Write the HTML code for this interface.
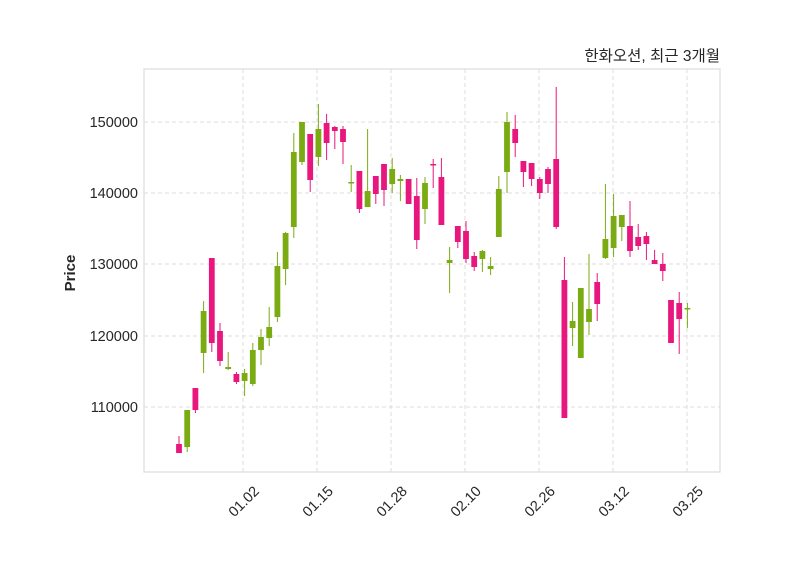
<!DOCTYPE html>
<html><head><meta charset="utf-8">
<style>
body{margin:0;background:#fff;}
svg{display:block;font-family:"Liberation Sans","DejaVu Sans",sans-serif;}
</style></head>
<body>
<svg id="s" width="800" height="575" xmlns="http://www.w3.org/2000/svg">
<rect x="0" y="0" width="800" height="575" fill="#fff"/>
<g id="grid" stroke="#d4d4d4" stroke-width="0.8" stroke-dasharray="4,3"></g>
<g id="c"></g>
<rect x="144" y="69" width="576" height="403" fill="none" stroke="#dcdcdc" stroke-width="1.2"/>
<g id="lab" font-size="14.5" fill="#262626"></g>
<text x="720" y="61" text-anchor="end" font-size="15.5" fill="#262626" font-family="'Liberation Sans','Noto Sans CJK KR',sans-serif">한화오션, 최근 3개월</text>
<text transform="translate(75,273) rotate(-90)" text-anchor="middle" font-size="15" font-weight="bold" fill="#262626">Price</text>
</svg>
<script>
var NS="http://www.w3.org/2000/svg";
function el(p,t,a,txt){var e=document.createElementNS(NS,t);for(var k in a)e.setAttribute(k,a[k]);if(txt)e.textContent=txt;p.appendChild(e);return e;}
var g=document.getElementById('grid'),lab=document.getElementById('lab'),c=document.getElementById('c');
var yt=[[407,"110000"],[336,"120000"],[264,"130000"],[193,"140000"],[122,"150000"]];
yt.forEach(function(t){el(g,'line',{x1:144,x2:720,y1:t[0],y2:t[0]});el(lab,'text',{x:138,y:t[0]+5,'text-anchor':'end'},t[1]);});
var xt=[[243,"01.02"],[317,"01.15"],[391,"01.28"],[465,"02.10"],[539,"02.26"],[613,"03.12"],[687,"03.25"]];
xt.forEach(function(t){el(g,'line',{x1:t[0],x2:t[0],y1:69,y2:472});el(lab,'text',{transform:'translate('+(t[0]+17)+',492) rotate(-45)','text-anchor':'end'},t[1]);});
var d=[[444,453,436,453,0],[410,447,410,452,1],[388,410,388,413,0],[311,353,301,373,1],[258,343,258,352,0],[331,361,323,366,0],[367,369,352,370,1],[374,382,372,384,0],[373,381,369,396,1],[350,384,343,386,1],[337,350,329,365,1],[327,338,307,346,1],[266,317,252,322,1],[233,269,232,285,1],[152,227,133,238,1],
[122,162,122,165,1],[134,180,134,192,0],[129,157,104,166,1],[123,143,114,160,0],[127,131,126,149,0],[129,142,126,164,0],[182,183,165,192,1],[171,209,171,213,0],[191,207,129,207,1],[176,194,176,204,0],[164,190,164,206,0],[169,184,158,193,1],[179,181,175,201,1],[179,204,179,204,0],[196,240,178,249,0],[183,209,177,224,1],[164,165,159,188,0],
[177,225,158,225,0],[260,263,247,293,1],[226,242,226,248,0],[231,259,221,263,0],[256,267,252,271,0],[251,259,250,272,1],[266,269,257,275,1],[189,237,176,237,1],[122,172,112,193,1],[129,143,115,157,0],[161,172,161,187,0],[163,179,163,186,0],[179,193,177,199,0],[169,184,167,193,0],[159,227,87,229,0],[280,418,257,418,0],[321,328,302,346,1],[288,358,288,358,1],
[309,322,254,335,1],[282,304,273,321,0],[239,258,184,259,1],[216,248,194,257,1],[215,227,215,241,1],[226,251,201,257,0],[237,246,224,250,0],[236,244,232,260,0],[260,264,250,264,0],[264,271,253,281,0],[300,343,300,343,0],[303,319,292,354,0],[308,309,303,328,1]];
d.forEach(function(v,i){var x=179+i*8.2,col=v[4]?'#7aab13':'#e8177d';
el(c,'line',{x1:x,x2:x,y1:v[2],y2:v[3],stroke:col,'stroke-width':1});
var h=Math.max(v[1]-v[0],1.5);el(c,'rect',{x:x-2.9,y:v[0],width:5.8,height:h,fill:col});});
</script>
</body></html>
